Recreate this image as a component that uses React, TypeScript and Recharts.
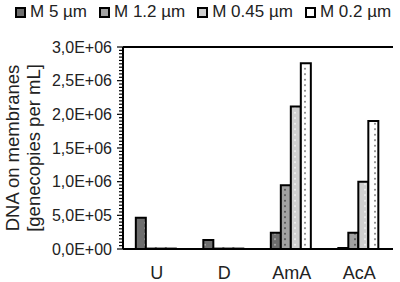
import React from 'react';
import { BarChart, Bar, XAxis, YAxis, Legend, ReferenceLine } from 'recharts';

const categories = ['U', 'D', 'AmA', 'AcA'];
const m5 = [465000, 135000, 240000, 15000];
const m12 = [6000, 6000, 945000, 240000];
const m045 = [6000, 6000, 2115000, 1000000];
const m02 = [6000, 6000, 2760000, 1900000];

const seriesNames = ['M 5 µm', 'M 1.2 µm', 'M 0.45 µm', 'M 0.2 µm'];
const seriesKeys = ['m5', 'm12', 'm045', 'm02'];
const seriesBase = ['#6e6e6e', '#a2a2a2', '#d0d0d0', '#ffffff'];
const seriesDot = ['#c8c8c8', '#2a2a2a', '#ffffff', '#444444'];

const yMajorTicks = [0, 500000, 1000000, 1500000, 2000000, 2500000, 3000000];
const yTickLabels = ['0,0E+00', '5,0E+05', '1,0E+06', '1,5E+06', '2,0E+06', '2,5E+06', '3,0E+06'];
const yAllTicks = Array.from({ length: 61 }, (_, i) => i * 50000);
const yMax = 3000000;

const yTitle = ['DNA on membranes', '[genecopies per mL]'];

const data = categories.map((c, i) => ({ cat: c, m5: m5[i], m12: m12[i], m045: m045[i], m02: m02[i] }));

const FONT = '"Liberation Sans", Arial, sans-serif';

const YTick = (props: any) => {
  const { x, y, payload } = props;
  const idx = yMajorTicks.indexOf(payload.value);
  const major = idx >= 0;
  return (
    <g>
      <line x1={x - (major ? 6 : 4)} x2={x} y1={y} y2={y} stroke="#000" strokeWidth={1.2} />
      {major && (
        <text x={x - 11} y={y} dy={5.5} textAnchor="end" fontFamily={FONT} fontSize={16} fill="#222">
          {yTickLabels[idx]}
        </text>
      )}
    </g>
  );
};

const XTick = (props: any) => {
  const { x, y, payload } = props;
  return (
    <text x={x} y={y + 30} textAnchor="middle" fontFamily={FONT} fontSize={18} fill="#222">
      {payload.value}
    </text>
  );
};

const YTitle = (props: any) => {
  const vb = props.viewBox || {};
  const cy = (vb.y || 47) + (vb.height || 202) / 2;
  return (
    <g>
      <text x={12} y={cy} transform={`rotate(-90 12 ${cy})`} textAnchor="middle" dominantBaseline="central" fontFamily={FONT} fontSize={18.5} fill="#222">
        {yTitle[0]}
      </text>
      <text x={33} y={cy} transform={`rotate(-90 33 ${cy})`} textAnchor="middle" dominantBaseline="central" fontFamily={FONT} fontSize={18.5} fill="#222">
        {yTitle[1]}
      </text>
    </g>
  );
};

const LegendContent = () => (
  <div style={{ boxSizing: 'border-box', height: 40, display: 'flex', alignItems: 'flex-start', paddingLeft: 15, paddingTop: 2, fontFamily: FONT, fontSize: 17, color: '#222', whiteSpace: 'nowrap' }}>
    {seriesNames.map((n, i) => (
      <div key={n} style={{ display: 'flex', alignItems: 'center', marginRight: 12 }}>
        <div style={{ width: 7, height: 7, border: '2px solid #000', background: seriesBase[i], marginRight: 4 }} />
        <span>{n}</span>
      </div>
    ))}
  </div>
);

export default function App() {
  return (
    <div style={{ position: 'absolute', left: 0, top: 0, width: 400, height: 282, background: '#fff' }}>
      <BarChart width={400} height={282} data={data} margin={{ top: 7, right: 7, bottom: 0, left: 0 }} barCategoryGap="19%" barGap={0}>
        <defs>
          {seriesKeys.map((k, i) => (
            <pattern key={k} id={`pat-${k}`} width={10} height={5.5} patternUnits="userSpaceOnUse">
              <rect width={10} height={5.5} fill={seriesBase[i]} />
              <circle cx={5} cy={2.7} r={0.8} fill={seriesDot[i]} />
            </pattern>
          ))}
        </defs>
        <Legend verticalAlign="top" align="left" content={<LegendContent />} wrapperStyle={{ left: 0, top: 0 }} />
        <XAxis dataKey="cat" tickLine={false} axisLine={{ stroke: '#000', strokeWidth: 2 }} tick={<XTick />} tickSize={0} tickMargin={0} height={33} interval={0} />
        <YAxis
          domain={[0, yMax]}
          ticks={yAllTicks}
          interval={0}
          tick={<YTick />}
          tickLine={false}
          tickSize={0}
          tickMargin={0}
          width={123}
          axisLine={{ stroke: '#000', strokeWidth: 2 }}
          label={<YTitle />}
        />
        <YAxis yAxisId="right" orientation="right" domain={[0, yMax]} tick={false} tickLine={false} width={0} axisLine={{ stroke: '#000', strokeWidth: 2 }} />
        <ReferenceLine y={yMax} stroke="#000" strokeWidth={2} ifOverflow="visible" />
        {seriesKeys.map((k, i) => (
          <Bar key={k} dataKey={k} name={seriesNames[i]} fill={`url(#pat-${k})`} stroke="#000" strokeWidth={2} isAnimationActive={false} />
        ))}
      </BarChart>
    </div>
  );
}
